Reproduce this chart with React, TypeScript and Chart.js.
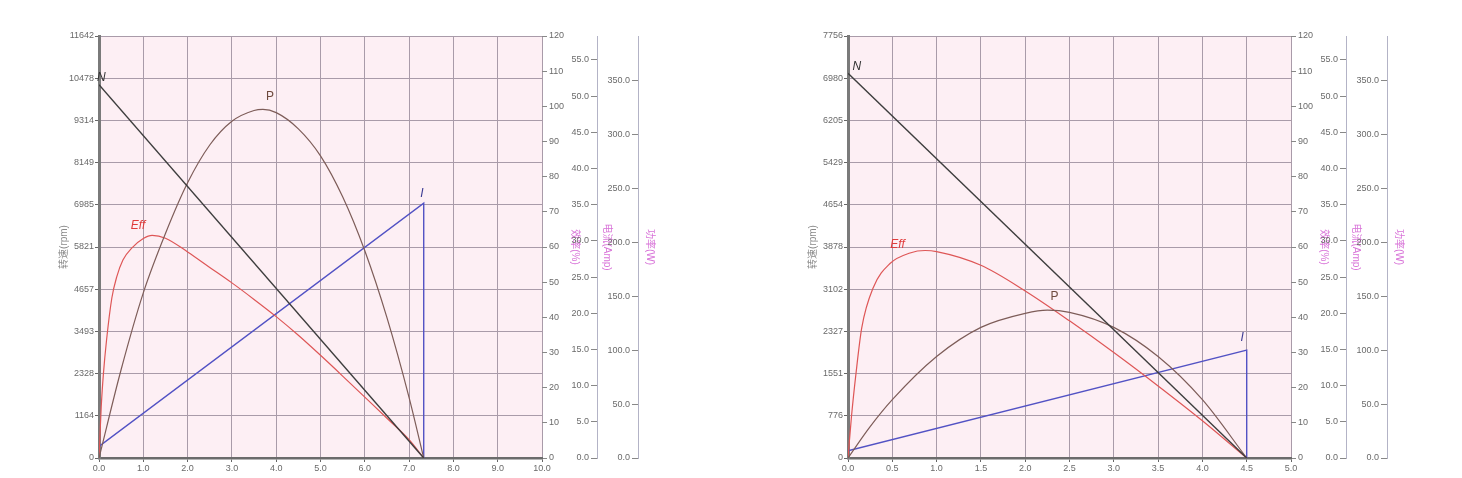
import React, { useEffect, useRef } from 'react';
import Chart from 'chart.js/auto';

const FONT = '"Liberation Sans", Arial, "Noto Sans CJK SC", sans-serif';
const GRID = '#a99ba9';
const MAGENTA = '#d873d8';

// axis ranges shared by both motors
const effMax = 120;
const ampMax = 58.3;
const wattMax = 391;

// ---- motor A (left) ----
const speedTicksA = [0, 1164, 2328, 3493, 4657, 5821, 6985, 8149, 9314, 10478, 11642];
const nTorqueA = [0, 7.33];
const nSpeedA = [10300, 0];
const effTorqueA = [0, 0.05, 0.1, 0.17, 0.29, 0.4, 0.54, 0.75, 1.0, 1.2, 1.5, 2.0, 2.5, 3.0, 3.5, 4.0, 4.5, 5.0, 5.5, 6.0, 6.5, 7.0, 7.33];
const effA = [0, 14.5, 24, 33.5, 45.5, 51.5, 56.3, 59.8, 62.4, 63.3, 62.5, 58.6, 54.2, 49.8, 45.1, 40.2, 34.9, 29.2, 23.3, 17.3, 11.3, 5.2, 0];
const pTorqueA = [0, 0.5, 1.0, 1.5, 2.0, 2.5, 3.0, 3.5, 3.7, 4.0, 4.5, 5.0, 5.5, 6.0, 6.5, 7.0, 7.33];
const pA = [0, 82, 153, 208, 255, 290, 312, 322, 323, 320, 305, 280, 242, 192, 130, 56, 0];
const iTorqueA = [0, 7.33, 7.33];
const iA = [1.6, 35.2, 0];
const marksA: [string, number, number, string][] = [
  ['N', 0.05, 10480, 'yN'],
  ['P', 3.86, 335, 'yW'],
  ['Eff', 0.88, 66, 'yEff'],
  ['I', 7.29, 36.5, 'yAmp'],
];

// ---- motor B (right) ----
const speedTicksB = [0, 776, 1551, 2327, 3102, 3878, 4654, 5429, 6205, 6980, 7756];
const nTorqueB = [0, 4.5];
const nSpeedB = [7070, 0];
const effTorqueB = [0, 0.04, 0.09, 0.155, 0.286, 0.474, 0.7, 0.87, 1.0, 1.5, 2.0, 2.5, 3.0, 3.5, 4.0, 4.5];
const effB = [0, 12, 24, 37, 48.5, 55.3, 58.3, 59, 58.7, 54.8, 47.5, 39, 30, 20.5, 10.6, 0];
const pTorqueB = [0, 0.25, 0.5, 1.0, 1.5, 2.0, 2.25, 2.5, 3.0, 3.5, 4.0, 4.5];
const pB = [0, 29, 54, 94, 121, 134, 137, 135, 121, 94, 54, 0];
const iTorqueB = [0, 4.5, 4.5];
const iB = [1.0, 14.9, 0];
const marksB: [string, number, number, string][] = [
  ['N', 0.1, 7186, 'yN'],
  ['P', 2.33, 149, 'yW'],
  ['Eff', 0.56, 60.6, 'yEff'],
  ['I', 4.45, 16.6, 'yAmp'],
];

const markStyle: Record<string, { color: string; italic: boolean }> = {
  N: { color: '#333333', italic: true },
  P: { color: '#6e4a3e', italic: false },
  Eff: { color: '#e03c3c', italic: true },
  I: { color: '#3a3a92', italic: true },
};

const pts = (xs: number[], ys: number[]) => xs.map((x, i) => ({ x, y: ys[i] }));

const bgPlugin = {
  id: 'plotBg',
  beforeDraw(chart: any) {
    const { ctx, chartArea: a } = chart;
    ctx.save();
    ctx.fillStyle = '#fdeff4';
    ctx.fillRect(a.left, a.top, a.right - a.left, a.bottom - a.top);
    ctx.restore();
  },
};

const marksPlugin = {
  id: 'curveMarks',
  afterDatasetsDraw(chart: any, _args: any, opts: any) {
    const { ctx } = chart;
    ctx.save();
    ctx.textAlign = 'center';
    ctx.textBaseline = 'middle';
    (opts.marks || []).forEach(([text, x, y, axis]: [string, number, number, string]) => {
      const st = markStyle[text];
      ctx.font = `${st.italic ? 'italic ' : ''}12px ${FONT}`;
      ctx.fillStyle = st.color;
      ctx.fillText(text, chart.scales.x.getPixelForValue(x), chart.scales[axis].getPixelForValue(y));
    });
    ctx.restore();
  },
};

interface MotorProps {
  left: number;
  speedTicks: number[];
  xMax: number;
  xStep: number;
  nT: number[]; nS: number[];
  eT: number[]; eV: number[];
  pT: number[]; pV: number[];
  iT: number[]; iV: number[];
  marks: [string, number, number, string][];
}

const tickFont = { family: FONT, size: 9 };
const titleFont = { family: FONT, size: 10 };

const MotorChart: React.FC<MotorProps> = (p) => {
  const ref = useRef<HTMLCanvasElement>(null);

  useEffect(() => {
    if (!ref.current) return;
    const chart = new Chart(ref.current, {
      type: 'scatter',
      data: {
        datasets: [
          { label: 'N', data: pts(p.nT, p.nS), yAxisID: 'yN', showLine: true, borderColor: '#3d3d3d', borderWidth: 1.4, pointRadius: 0 },
          { label: 'P', data: pts(p.pT, p.pV), yAxisID: 'yW', showLine: true, borderColor: '#7d5c58', borderWidth: 1.2, pointRadius: 0, cubicInterpolationMode: 'monotone' },
          { label: 'Eff', data: pts(p.eT, p.eV), yAxisID: 'yEff', showLine: true, borderColor: '#de5656', borderWidth: 1.2, pointRadius: 0, cubicInterpolationMode: 'monotone' },
          { label: 'I', data: pts(p.iT, p.iV), yAxisID: 'yAmp', showLine: true, borderColor: '#5252c4', borderWidth: 1.4, pointRadius: 0 },
        ],
      } as any,
      options: {
        responsive: false,
        animation: false,
        layout: { padding: { top: 16, left: 0, right: 0, bottom: 0 } },
        plugins: {
          legend: { display: false },
          tooltip: { enabled: false },
          curveMarks: { marks: p.marks },
        } as any,
        scales: {
          x: {
            type: 'linear',
            position: 'bottom',
            min: 0,
            max: p.xMax,
            ticks: { stepSize: p.xStep, font: tickFont, color: '#6a6a6a', padding: 1, maxRotation: 0, autoSkip: false, callback: (v: any) => Number(v).toFixed(1) },
            grid: { color: GRID, tickColor: '#666', tickLength: 4 },
            border: { color: '#6b6b6b', width: 2.5 },
            afterFit: (s: any) => { s.height = 20; },
          },
          yN: {
            type: 'linear',
            position: 'left',
            min: 0,
            max: p.speedTicks[p.speedTicks.length - 1],
            afterBuildTicks: (s: any) => { s.ticks = p.speedTicks.map((v) => ({ value: v })); },
            ticks: { font: tickFont, color: '#6a6a6a', padding: 1, callback: (v: any) => String(v) },
            grid: { color: GRID, tickColor: '#666', tickLength: 4 },
            border: { color: '#7a7a7a', width: 3 },
            title: { display: true, text: '转速(rpm)', color: '#8a8a8a', font: titleFont, padding: { top: 8, bottom: 0 } },
            afterFit: (s: any) => { s.width = 49; },
          },
          yEff: {
            type: 'linear',
            position: 'right',
            weight: 1,
            min: 0,
            max: effMax,
            ticks: { stepSize: 10, font: tickFont, color: '#6a6a6a', padding: 2, callback: (v: any) => String(v) },
            grid: { drawOnChartArea: false, tickColor: '#888', tickLength: 5 },
            border: { display: false },
            title: { display: true, text: '效率(%)', color: MAGENTA, font: titleFont, padding: { top: 16, bottom: 0 } },
            afterFit: (s: any) => { s.width = 55; },
          },
          yAmp: {
            type: 'linear',
            position: 'right',
            weight: 2,
            min: 0,
            max: ampMax,
            ticks: { stepSize: 5, includeBounds: false, mirror: true, padding: -8, font: tickFont, color: '#6a6a6a', callback: (v: any) => Number(v).toFixed(1) },
            grid: { drawOnChartArea: false, tickColor: '#888', tickLength: -6 },
            border: { color: '#b3b3c6', width: 1 },
            title: { display: true, text: '电流(Amp)', color: MAGENTA, font: titleFont, padding: { top: 25, bottom: 0 } },
            afterFit: (s: any) => { s.width = 41; },
          },
          yW: {
            type: 'linear',
            position: 'right',
            weight: 3,
            min: 0,
            max: wattMax,
            ticks: { stepSize: 50, includeBounds: false, mirror: true, padding: -8, font: tickFont, color: '#6a6a6a', callback: (v: any) => Number(v).toFixed(1) },
            grid: { drawOnChartArea: false, tickColor: '#888', tickLength: -6 },
            border: { color: '#b3b3c6', width: 1 },
            title: { display: true, text: '功率(W)', color: MAGENTA, font: titleFont, padding: { top: 12, bottom: 0 } },
            afterFit: (s: any) => { s.width = 30; },
          },
        } as any,
      },
      plugins: [bgPlugin, marksPlugin],
    });
    return () => chart.destroy();
  }, []);

  return (
    <canvas
      ref={ref}
      width={618}
      height={458}
      style={{ position: 'absolute', left: p.left, top: 20, width: 618, height: 458 }}
    />
  );
};

export default function App() {
  return (
    <div style={{ position: 'absolute', left: 0, top: 0, width: 1462, height: 478, background: '#fff', overflow: 'hidden' }}>
      <MotorChart
        left={50}
        speedTicks={speedTicksA}
        xMax={10}
        xStep={1}
        nT={nTorqueA} nS={nSpeedA}
        eT={effTorqueA} eV={effA}
        pT={pTorqueA} pV={pA}
        iT={iTorqueA} iV={iA}
        marks={marksA}
      />
      <MotorChart
        left={799}
        speedTicks={speedTicksB}
        xMax={5}
        xStep={0.5}
        nT={nTorqueB} nS={nSpeedB}
        eT={effTorqueB} eV={effB}
        pT={pTorqueB} pV={pB}
        iT={iTorqueB} iV={iB}
        marks={marksB}
      />
    </div>
  );
}
